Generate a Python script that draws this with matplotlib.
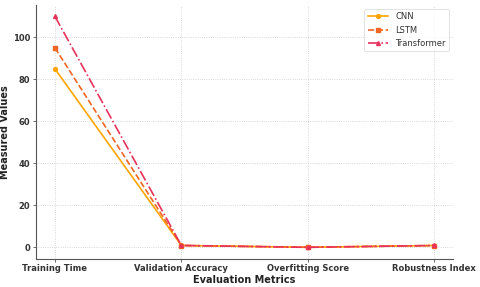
import matplotlib
matplotlib.use('Agg')
import matplotlib.pyplot as plt

# Data
metrics = ['Training Time', 'Validation Accuracy', 'Overfitting Score', 'Robustness Index']
cnn = [85, 0.92, 0.05, 0.90]
lstm = [95, 0.90, 0.08, 0.88]
transformer = [110, 0.95, 0.04, 0.93]

fig = plt.figure(figsize=(4.8, 2.87), dpi=100)
ax = fig.add_axes([0.075, 0.098, 0.869, 0.885])

x = range(len(metrics))
ax.plot(x, cnn, color='#FFA500', linestyle='-', marker='o', markersize=2.8, linewidth=1.2, label='CNN')
ax.plot(x, lstm, color='#F26522', linestyle='--', marker='s', markersize=2.8, linewidth=1.2, label='LSTM')
ax.plot(x, transformer, color='#E8315B', linestyle='-.', marker='^', markersize=2.8, linewidth=1.2, label='Transformer')

ax.set_xticks(list(x))
ax.set_xticklabels(metrics, fontsize=6, fontweight='bold', color='#333333')
ax.tick_params(axis='y', labelsize=6, labelcolor='#333333')
for lbl in ax.get_yticklabels():
    lbl.set_fontweight('bold')
ax.tick_params(length=2, width=0.6, color='#555555', pad=2)
ax.set_xlabel('Evaluation Metrics', fontsize=7, fontweight='bold', color='#222222', labelpad=1)
ax.set_ylabel('Measured Values', fontsize=7, fontweight='bold', color='#222222', labelpad=2)

ax.grid(True, linestyle=':', linewidth=0.6, color='#cccccc')
ax.spines['top'].set_visible(False)
ax.spines['right'].set_visible(False)
ax.spines['left'].set_color('#555555')
ax.spines['bottom'].set_color('#555555')
ax.spines['left'].set_linewidth(0.8)
ax.spines['bottom'].set_linewidth(0.8)

leg = ax.legend(loc='upper right', fontsize=6, frameon=True, handlelength=2.5)
leg.get_frame().set_linewidth(0.5)
for t in leg.get_texts():
    t.set_color('#333333')

fig.savefig('out.png', dpi=100)
